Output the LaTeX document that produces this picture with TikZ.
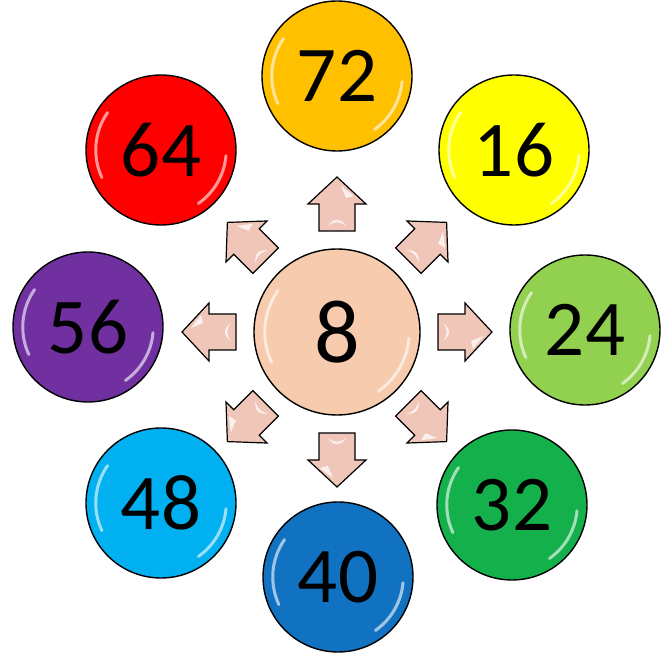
\documentclass[tikz,border=0pt]{standalone}
\usepackage{fontspec}
\setmainfont{Carlito}
\definecolor{cOrange}{HTML}{FFC000}
\definecolor{cYellow}{HTML}{FFFF00}
\definecolor{cLime}{HTML}{92D050}
\definecolor{cGreen}{HTML}{14B04C}
\definecolor{cBlue}{HTML}{1272C2}
\definecolor{cSky}{HTML}{00B0F0}
\definecolor{cPurple}{HTML}{7030A0}
\definecolor{cRed}{HTML}{FF0000}
\definecolor{cPeach}{HTML}{F6CBAE}
\definecolor{cArrow}{HTML}{EFC6B8}
\begin{document}
\begin{tikzpicture}[x=1pt,y=1pt,
  ball/.style={circle,draw=black,line width=1.4pt,inner sep=0pt,minimum size=150pt,
    font=\fontsize{79}{79}\selectfont},
  hub/.style={ball,minimum size=166pt,font=\fontsize{90}{90}\selectfont},
  gloss/.style={white,opacity=0.6,line width=3pt,line cap=round},
  arrowshape/.style={draw=black,line width=1.2pt,fill=cArrow,line join=miter},
  shine/.style={fill=white,opacity=0.75,draw=none},
  blockarrow/.pic={
    \draw[arrowshape] (101,-18) -- (128,-18) -- (128,-29) -- (155,0) -- (128,29) -- (128,18) -- (101,18) -- cycle;
    \fill[shine] (134,-9) -- (146,-4) -- (136,-17) -- cycle;
    \fill[shine] (106,-9) .. controls (111,-3) and (111,3) .. (106,9) .. controls (114,4) and (114,-4) .. (106,-9) -- cycle;
  }
]
\useasboundingbox (0,0) rectangle (665,654);
\node[hub,fill=cPeach] (c8) at (337,322) {8};
\node[ball,fill=cOrange] (c72) at (337,578) {72};
\node[ball,fill=cYellow] (c16) at (514,504) {16};
\node[ball,fill=cLime] (c24) at (585,324) {24};
\node[ball,fill=cGreen] (c32) at (512,149) {32};
\node[ball,fill=cBlue] (c40) at (338,77) {40};
\node[ball,fill=cSky] (c48) at (161,151) {48};
\node[ball,fill=cPurple] (c56) at (88,327) {56};
\node[ball,fill=cRed] (c64) at (161,504) {64};
\foreach \n/\r in {c8/83,c72/75,c16/75,c24/75,c32/75,c40/75,c48/75,c56/75,c64/75}{
  \draw[gloss] ([shift={(145:\r*0.87)}]\n.center) arc[start angle=145,end angle=205,radius=\r*0.87];
  \draw[gloss] ([shift={(-55:\r*0.87)}]\n.center) arc[start angle=-55,end angle=-5,radius=\r*0.87];
}
\foreach \a in {0,45,...,315}{
  \pic[rotate=\a] at (c8.center) {blockarrow};
}
\end{tikzpicture}
\end{document}
